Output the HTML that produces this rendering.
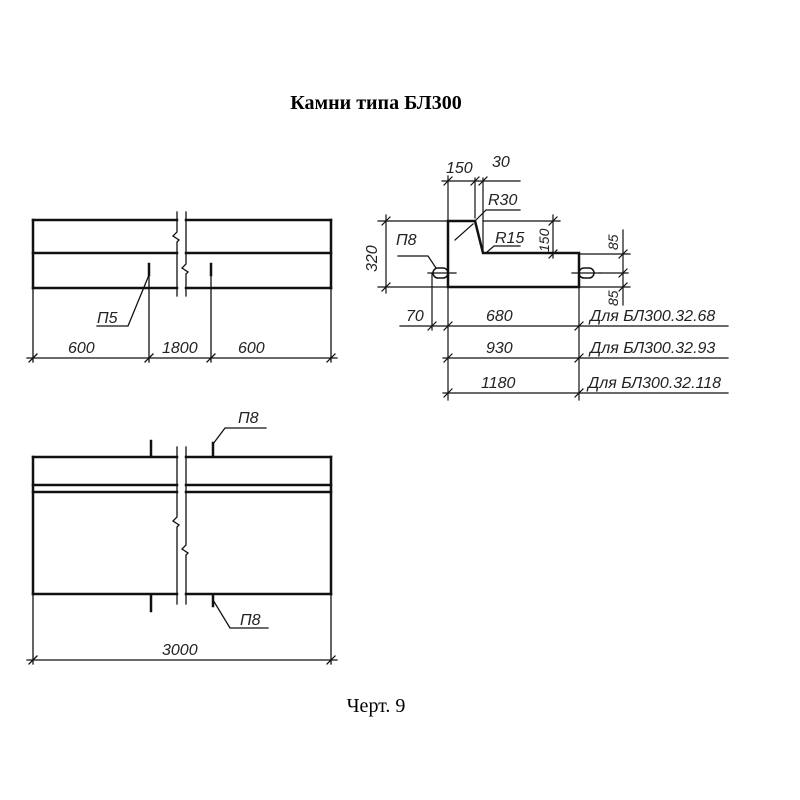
<!DOCTYPE html>
<html><head><meta charset="utf-8"><style>
html,body{margin:0;padding:0;background:#fff;}
svg{display:block}
.t{font-family:"Liberation Sans",sans-serif;font-style:italic;font-size:16px;fill:#222}
</style></head><body>
<svg width="800" height="800" viewBox="0 0 800 800" xmlns="http://www.w3.org/2000/svg">
<g fill="none" stroke="#111" stroke-linecap="square">
<g stroke-width="2.5">
<line x1="33" y1="220" x2="177" y2="220"/><line x1="186" y1="220" x2="331" y2="220"/>
<line x1="33" y1="253" x2="177" y2="253"/><line x1="186" y1="253" x2="331" y2="253"/>
<line x1="33" y1="288" x2="177" y2="288"/><line x1="186" y1="288" x2="331" y2="288"/>
<line x1="33" y1="220" x2="33" y2="288"/><line x1="331" y1="220" x2="331" y2="288"/>
<line x1="149" y1="264" x2="149" y2="275"/><line x1="211" y1="264" x2="211" y2="275"/>
</g>
<g stroke-width="1.3">
<path d="M177 212 V232 l-4 4 l6 4 l-2 2 V296"/>
<path d="M186 212 V264 l-4 4 l6 4 l-2 2 V296"/>
<line x1="33" y1="288" x2="33" y2="362"/><line x1="149" y1="275" x2="149" y2="362"/>
<line x1="211" y1="275" x2="211" y2="362"/><line x1="331" y1="288" x2="331" y2="362"/>
<line x1="27" y1="358" x2="337" y2="358"/>
<path d="M149 275 L128 326 H97"/>
<path d="M29 362 l8 -8 M145 362 l8 -8 M207 362 l8 -8 M327 362 l8 -8"/>
</g>
<g stroke-width="2.5">
<line x1="33" y1="457" x2="177" y2="457"/><line x1="186" y1="457" x2="331" y2="457"/>
<line x1="33" y1="485" x2="177" y2="485"/><line x1="186" y1="485" x2="331" y2="485"/>
<line x1="33" y1="492" x2="177" y2="492"/><line x1="186" y1="492" x2="331" y2="492"/>
<line x1="33" y1="594" x2="177" y2="594"/><line x1="186" y1="594" x2="331" y2="594"/>
<line x1="33" y1="457" x2="33" y2="594"/><line x1="331" y1="457" x2="331" y2="594"/>
<line x1="151" y1="441" x2="151" y2="455"/><line x1="213" y1="443" x2="213" y2="455"/>
<line x1="151" y1="596" x2="151" y2="611"/><line x1="213" y1="596" x2="213" y2="606"/>
</g>
<g stroke-width="1.3">
<path d="M177 447 V517 l-4 4 l6 4 l-2 2 V604"/>
<path d="M186 447 V545 l-4 4 l6 4 l-2 2 V604"/>
<path d="M213 444 L225 428 H266"/>
<path d="M213 600 L230 628 H268"/>
<line x1="33" y1="594" x2="33" y2="664"/><line x1="331" y1="594" x2="331" y2="664"/>
<line x1="27" y1="660" x2="337" y2="660"/>
<path d="M29 664 l8 -8 M327 664 l8 -8"/>
</g>
<path stroke-width="2.5" d="M448 221 H475 L483 253 H579 V287 H448 Z"/>
<g stroke-width="1.5">
<rect x="433" y="268" width="15" height="10" rx="5"/>
<rect x="579" y="268" width="15" height="10" rx="5"/>
</g>
<g stroke-width="1.2">
<line x1="428" y1="273" x2="456" y2="273"/><line x1="572" y1="273" x2="600" y2="273"/>
<line x1="600" y1="273" x2="628" y2="273"/>
<line x1="378" y1="221" x2="448" y2="221"/><line x1="483" y1="221" x2="560" y2="221"/>
<line x1="378" y1="287" x2="448" y2="287"/><line x1="579" y1="287" x2="630" y2="287"/>
<line x1="579" y1="254" x2="630" y2="254"/>
<line x1="386" y1="215" x2="386" y2="293"/>
<path d="M382 225 l8 -8 M382 291 l8 -8"/>
<line x1="448" y1="176" x2="448" y2="400"/><line x1="475" y1="178" x2="475" y2="218"/>
<line x1="483" y1="178" x2="483" y2="250"/>
<line x1="442" y1="181" x2="520" y2="181"/>
<path d="M444 185 l8 -8 M471 185 l8 -8 M479 185 l8 -8"/>
<path d="M475 221 L486 210 H520"/>
<path d="M455 240 L473 224"/>
<path d="M487 252 L494 246 H520"/>
<line x1="553" y1="215" x2="553" y2="258"/>
<path d="M549 225 l8 -8 M549 258 l8 -8"/>
<line x1="623" y1="230" x2="623" y2="305"/>
<path d="M619 258 l8 -8 M619 277 l8 -8 M619 291 l8 -8"/>
<line x1="432" y1="273" x2="432" y2="330"/>
<line x1="579" y1="287" x2="579" y2="400"/>
<line x1="400" y1="326" x2="728" y2="326"/>
<line x1="443" y1="358" x2="728" y2="358"/>
<line x1="443" y1="393" x2="728" y2="393"/>
<path d="M428 330 l8 -8 M444 330 l8 -8 M575 330 l8 -8 M444 362 l8 -8 M575 362 l8 -8 M444 397 l8 -8 M575 397 l8 -8"/>
<path d="M398 256 H428 L436 268"/>
</g>
</g>
<text x="376" y="109" text-anchor="middle" font-family="Liberation Serif,serif" font-weight="bold" font-size="20">Камни типа БЛ300</text>
<text x="376" y="712" text-anchor="middle" font-family="Liberation Serif,serif" font-size="20">Черт. 9</text>
<g class="t">
<text x="97" y="323">П5</text>
<text x="68" y="353">600</text>
<text x="162" y="353">1800</text>
<text x="238" y="353">600</text>
<text x="238" y="423">П8</text>
<text x="240" y="625">П8</text>
<text x="162" y="655">3000</text>
<text x="446" y="173">150</text>
<text x="492" y="167">30</text>
<text x="488" y="205">R30</text>
<text x="495" y="243">R15</text>
<text x="396" y="245">П8</text>
<text x="406" y="321">70</text>
<text x="486" y="321">680</text>
<text x="486" y="353">930</text>
<text x="481" y="388">1180</text>
<text x="590" y="321">Для БЛ300.32.68</text>
<text x="590" y="353">Для БЛ300.32.93</text>
<text x="588" y="388">Для БЛ300.32.118</text>
<text transform="translate(377,272) rotate(-90)">320</text>
<text transform="translate(549,252) rotate(-90)" font-size="14">150</text>
<text transform="translate(618,250) rotate(-90)" font-size="14">85</text>
<text transform="translate(618,306) rotate(-90)" font-size="14">85</text>
</g>
</svg>
</body></html>
